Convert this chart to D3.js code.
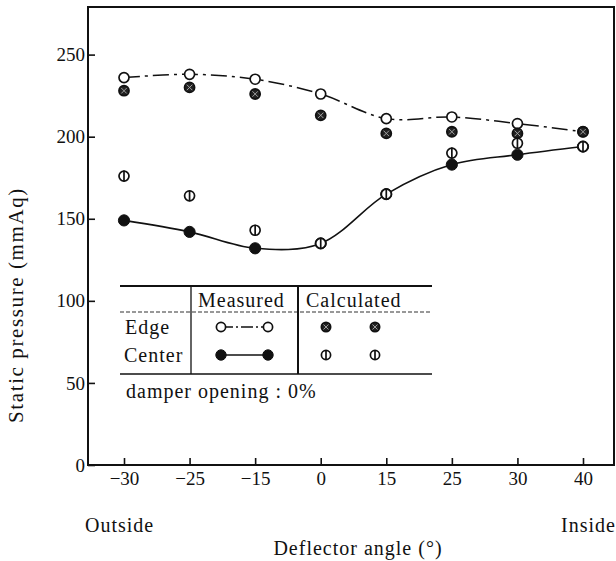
<!DOCTYPE html>
<html>
<head>
<meta charset="utf-8">
<script src="https://cdn.jsdelivr.net/npm/d3@7"></script>
<style>
  html, body { margin: 0; padding: 0; background: #fff; }
  svg { display: block; }
  text { font-family: "Liberation Serif", "Times New Roman", "DejaVu Serif", serif; fill: #111; }
</style>
</head>
<body>
<svg id="chart" width="616" height="561"></svg>
<script>
// ---- data ----
const categories = ["−30", "−25", "−15", "0", "15", "25", "30", "40"];
const edgeMeasured     = [236, 238, 235, 226, 211, 212, 208, 203];
const edgeCalculated   = [228, 230, 226, 213, 202, 203, 202, 203];
const centerMeasured   = [149, 142, 132, 135, 165, 183, 189, 194];
const centerCalculated = [176, 164, 143, 135, 165, 190, 196, 194];
const yTicks = [0, 50, 100, 150, 200, 250];
const yTitle = "Static pressure (mmAq)";
const xTitle = "Deflector angle (°)";
const xLeftNote = "Outside";
const xRightNote = "Inside";
const legendCols = ["Measured", "Calculated"];
const legendRows = ["Edge", "Center"];
const legendNote = "damper opening : 0%";

// ---- layout ----
const FONT = '"Liberation Serif", "Times New Roman", "DejaVu Serif", serif';
const svg = d3.select("#chart");
const frame = { left: 88, right: 614, top: 7, bottom: 465 };
const x = d3.scalePoint().domain(categories).range([124, 583]);
const y = d3.scaleLinear().domain([0, 279]).range([frame.bottom, frame.top]);

// frame
svg.append("rect")
  .attr("x", frame.left).attr("y", frame.top)
  .attr("width", frame.right - frame.left).attr("height", frame.bottom - frame.top)
  .attr("fill", "none").attr("stroke", "#111").attr("stroke-width", 2);

// axes (ticks pointing inward)
const gx = svg.append("g").attr("transform", `translate(0,${frame.bottom})`)
  .call(d3.axisBottom(x).tickSize(-7).tickPadding(7));
gx.attr("font-family", FONT);
gx.select(".domain").remove();
gx.selectAll(".tick line").attr("stroke", "#111").attr("stroke-width", 1.6);
gx.selectAll(".tick text").attr("font-size", 19).attr("fill", "#111");

const gy = svg.append("g").attr("transform", `translate(${frame.left},0)`)
  .call(d3.axisLeft(y).tickValues(yTicks).tickSize(-7).tickPadding(3));
gy.attr("font-family", FONT);
gy.select(".domain").remove();
gy.selectAll(".tick line").attr("stroke", "#111").attr("stroke-width", 1.6);
gy.selectAll(".tick text").attr("font-size", 19).attr("fill", "#111");

// titles
svg.append("text").attr("transform", "translate(23,305) rotate(-90)")
  .attr("text-anchor", "middle").attr("font-size", 21).attr("letter-spacing", 1.6).text(yTitle);
svg.append("text").attr("x", 358).attr("y", 555)
  .attr("text-anchor", "middle").attr("font-size", 20).attr("letter-spacing", 1).text(xTitle);
svg.append("text").attr("x", 85).attr("y", 532).attr("font-size", 20).attr("letter-spacing", 1).text(xLeftNote);
svg.append("text").attr("x", 616).attr("y", 532).attr("text-anchor", "end").attr("font-size", 20).attr("letter-spacing", 1).text(xRightNote);

// ---- series ----
const idx = d3.range(categories.length);
const line = vals => d3.line()
  .x(i => x(categories[i])).y(i => y(vals[i]))
  .curve(d3.curveCatmullRom.alpha(0.5))(idx);

svg.append("path").attr("d", line(edgeMeasured))
  .attr("fill", "none").attr("stroke", "#111").attr("stroke-width", 1.5)
  .attr("stroke-dasharray", "16,5,3,5");
svg.append("path").attr("d", line(centerMeasured))
  .attr("fill", "none").attr("stroke", "#111").attr("stroke-width", 1.6);

const R = 5;
function openCircle(g, cx, cy, r) {
  g.append("circle").attr("cx", cx).attr("cy", cy).attr("r", r)
    .attr("fill", "#fff").attr("stroke", "#111").attr("stroke-width", 1.7);
}
function filledCircle(g, cx, cy, r) {
  g.append("circle").attr("cx", cx).attr("cy", cy).attr("r", r + 0.6)
    .attr("fill", "#111").attr("stroke", "#111").attr("stroke-width", 1);
}
function crossCircle(g, cx, cy, r) {
  g.append("circle").attr("cx", cx).attr("cy", cy).attr("r", r)
    .attr("fill", "#222").attr("stroke", "#111").attr("stroke-width", 1.8);
  const d = r * 0.55;
  g.append("path").attr("d", `M${cx - d},${cy - d}L${cx + d},${cy + d}M${cx - d},${cy + d}L${cx + d},${cy - d}`)
    .attr("stroke", "#aaa").attr("stroke-width", 0.9);
}
function barCircle(g, cx, cy, r) {
  g.append("circle").attr("cx", cx).attr("cy", cy).attr("r", r)
    .attr("fill", "#fff").attr("stroke", "#111").attr("stroke-width", 1.7);
  g.append("line").attr("x1", cx).attr("x2", cx).attr("y1", cy - r - 0.5).attr("y2", cy + r + 0.5)
    .attr("stroke", "#111").attr("stroke-width", 1.7);
}

const marks = svg.append("g");
idx.forEach(i => openCircle(marks, x(categories[i]), y(edgeMeasured[i]), R));
idx.forEach(i => filledCircle(marks, x(categories[i]), y(centerMeasured[i]), R));
idx.forEach(i => crossCircle(marks, x(categories[i]), y(edgeCalculated[i]), R));
idx.forEach(i => barCircle(marks, x(categories[i]), y(centerCalculated[i]), R));

// ---- legend table ----
const lg = svg.append("g");
const L = { x0: 120, x1: 432, top: 286, mid: 312, bot: 374, c1: 191, c2: 298, rowE: 327, rowC: 355 };
lg.append("line").attr("x1", L.x0).attr("x2", L.x1).attr("y1", L.top).attr("y2", L.top)
  .attr("stroke", "#111").attr("stroke-width", 1.8);
lg.append("line").attr("x1", L.x0).attr("x2", L.x1).attr("y1", L.mid).attr("y2", L.mid)
  .attr("stroke", "#333").attr("stroke-width", 1.2).attr("stroke-dasharray", "4,2");
lg.append("line").attr("x1", L.x0).attr("x2", L.x1).attr("y1", L.bot).attr("y2", L.bot)
  .attr("stroke", "#111").attr("stroke-width", 1.6);
lg.append("line").attr("x1", L.c1).attr("x2", L.c1).attr("y1", L.top).attr("y2", L.bot)
  .attr("stroke", "#111").attr("stroke-width", 1.3);
lg.append("line").attr("x1", L.c2).attr("x2", L.c2).attr("y1", L.top).attr("y2", L.bot)
  .attr("stroke", "#111").attr("stroke-width", 2);

lg.append("text").attr("x", 198).attr("y", 307).attr("font-size", 20).attr("letter-spacing", 1).text(legendCols[0]);
lg.append("text").attr("x", 306).attr("y", 307).attr("font-size", 20).attr("letter-spacing", 1).text(legendCols[1]);
lg.append("text").attr("x", 125).attr("y", 334).attr("font-size", 20).attr("letter-spacing", 1).text(legendRows[0]);
lg.append("text").attr("x", 124).attr("y", 362).attr("font-size", 20).attr("letter-spacing", 1).text(legendRows[1]);
lg.append("text").attr("x", 126).attr("y", 398).attr("font-size", 20).attr("letter-spacing", 1).text(legendNote);

const lm1 = 221, lm2 = 268, lc1 = 326, lc2 = 375;
lg.append("line").attr("x1", lm1).attr("x2", lm2).attr("y1", L.rowE).attr("y2", L.rowE)
  .attr("stroke", "#111").attr("stroke-width", 1.5).attr("stroke-dasharray", "12,3,2,3");
lg.append("line").attr("x1", lm1).attr("x2", lm2).attr("y1", L.rowC).attr("y2", L.rowC)
  .attr("stroke", "#111").attr("stroke-width", 1.6);
openCircle(lg, lm1, L.rowE, 4.6); openCircle(lg, lm2, L.rowE, 4.6);
filledCircle(lg, lm1, L.rowC, 4.6); filledCircle(lg, lm2, L.rowC, 4.6);
crossCircle(lg, lc1, L.rowE, 4.6); crossCircle(lg, lc2, L.rowE, 4.6);
barCircle(lg, lc1, L.rowC, 4.6); barCircle(lg, lc2, L.rowC, 4.6);
</script>
</body>
</html>
